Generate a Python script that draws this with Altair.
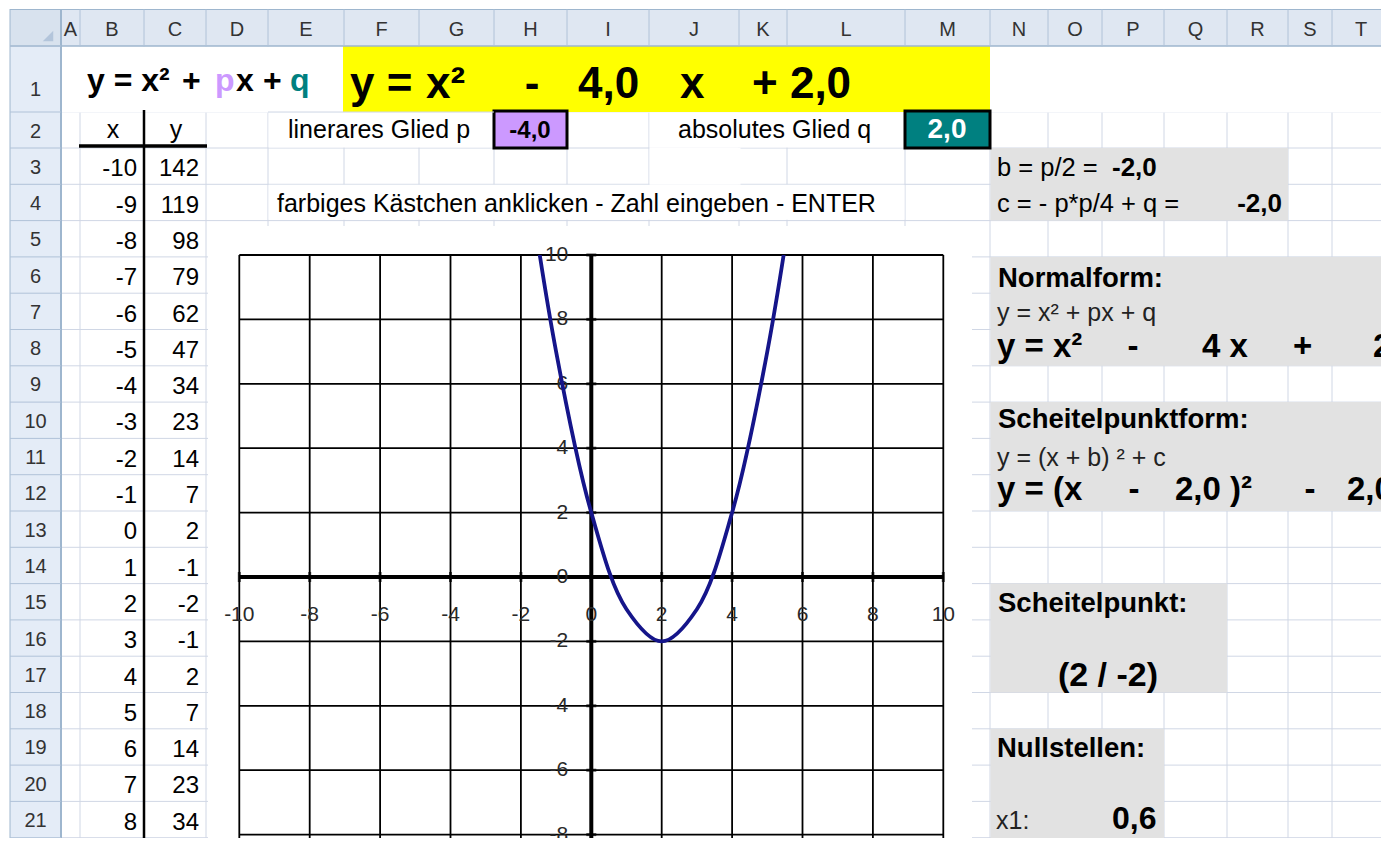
import altair as alt
import pandas as pd

# ---------------- values read from the sheet ----------------
X_VALUES = [-10, -9, -8, -7, -6, -5, -4, -3, -2, -1, 0, 1, 2, 3, 4, 5, 6, 7, 8, 9]
Y_VALUES = [142, 119, 98, 79, 62, 47, 34, 23, 14, 7, 2, -1, -2, -1, 2, 7, 14, 23, 34, 47]
AXIS_TICKS = [-10, -8, -6, -4, -2, 0, 2, 4, 6, 8, 10]
COLUMN_LETTERS = ["A", "B", "C", "D", "E", "F", "G", "H", "I", "J", "K", "L", "M",
                  "N", "O", "P", "Q", "R", "S", "T"]
ROW_NUMBERS = list(range(1, 23))
P_TEXT = "-4,0"
Q_TEXT = "2,0"
B_TEXT = "-2,0"
C_TEXT = "-2,0"
VERTEX_TEXT = "(2 / -2)"
X1_TEXT = "0,6"

# ---------------- layout (screen pixels) ----------------
COL_EDGES = [61, 80, 144, 206, 268, 344, 419, 494, 567, 649, 739, 787, 905, 990,
             1048, 1102, 1164, 1227, 1288, 1332, 1390]
ROW_EDGES = [46, 112] + [148 + 36.3 * i for i in range(21)]
R = ROW_EDGES

VIEW_LEFT, VIEW_TOP = 239.3, 255.0
PLOT_W, PLOT_H_FULL = 704, 644
SVG_W, SVG_H = 1373, 830
VIEW_H = SVG_H - (VIEW_TOP - 8)

FONT = "Liberation Sans"
GRID = "#d0d7e5"
HEAD_LINE = "#9eb6ce"
GRAY = "#e2e2e2"

SX = alt.Scale(domain=[0, 1389], range=[-VIEW_LEFT, 1389 - VIEW_LEFT], nice=False, zero=False)
SY = alt.Scale(domain=[0, 851], range=[-VIEW_TOP, 851 - VIEW_TOP], nice=False, zero=False)
DX = alt.Scale(domain=[-10, 10], range=[0, PLOT_W], nice=False, zero=False)
DY = alt.Scale(domain=[-10, 10], range=[PLOT_H_FULL, 0], nice=False, zero=False)


def screen_rules(rows):
    df = pd.DataFrame(rows, columns=["x1", "x2", "y1", "y2", "color", "w"])
    return alt.Chart(df).mark_rule().encode(
        x=alt.X("x1:Q", scale=SX, axis=None), x2="x2:Q",
        y=alt.Y("y1:Q", scale=SY, axis=None), y2="y2:Q",
        color=alt.Color("color:N", scale=None),
        strokeWidth=alt.StrokeWidth("w:Q", scale=None))


def screen_rects(rows, **mark):
    df = pd.DataFrame(rows, columns=["x1", "x2", "y1", "y2", "fill"])
    return alt.Chart(df).mark_rect(**mark).encode(
        x=alt.X("x1:Q", scale=SX, axis=None), x2="x2:Q",
        y=alt.Y("y1:Q", scale=SY, axis=None), y2="y2:Q",
        color=alt.Color("fill:N", scale=None))


# ---------------- sheet grid ----------------
grid_rows = []
for e in COL_EDGES[1:]:
    grid_rows.append([e, e, 46, 880, GRID, 1])
for e in ROW_EDGES[1:]:
    grid_rows.append([61, 1389, e, e, GRID, 1])
grid_layer = screen_rules(grid_rows)

# white masks (merged cells, row 1, chart object)
mask_layer = screen_rects([
    [61.5, 1389, 46.5, 112.5, "white"],
    [268.5, 493.5, 112.5, 147.5, "white"],
    [649.5, 904.5, 112.5, 147.5, "white"],
    [649.5, 740.5, 147.5, 184.8, "white"],
    [268.5, 904.5, 184.8, 219.8, "white"],
    [208, 972, 226, 880, "white"],
])

fill_layer = screen_rects([
    [10, 1389, 9, 46, "#dfe7f2"],
    [10, 61, 46, 880, "#e4ecf7"],
    [10, 61, 9, 46, "#d8e2ee"],
    [343, 990, 46, 112, "#ffff00"],
    [990.5, 1288, R[2], R[4], GRAY],
    [990.5, 1389, R[5], R[8], GRAY],
    [990.5, 1389, R[9], R[12], GRAY],
    [990.5, 1227, R[14], R[17], GRAY],
    [990.5, 1164, R[18], 880, GRAY],
])

box_layer = screen_rects([
    [494, 567, 111, 148, "#cc99ff"],
    [905, 990, 111, 148, "#008080"],
], stroke="black", strokeWidth=3)

top_rows = [
    [10, 1389, 9.5, 9.5, HEAD_LINE, 1],
    [10, 1389, 46, 46, HEAD_LINE, 1.5],
    [10, 10, 9, 880, HEAD_LINE, 1],
    [61, 61, 9, 880, HEAD_LINE, 2],
    [268, 494, 112, 112, GRID, 1],
    [79, 207, 146, 146, "black", 3.5],
    [144, 144, 110, 880, "black", 2.5],
]
for e in COL_EDGES[1:-1]:
    top_rows.append([e, e, 9.5, 46, "#b0c2d8", 1])
for e in ROW_EDGES:
    top_rows.append([10, 61, e, e, "#b0c2d8", 1])
top_layer = screen_rules(top_rows)

corner_layer = alt.Chart(pd.DataFrame({"x": [48], "y": [36]})).mark_point(
    shape="M 1 -1 L 1 1 L -1 1 Z", filled=True, size=110, color="#b3c5db", opacity=1
).encode(x=alt.X("x:Q", scale=SX, axis=None), y=alt.Y("y:Q", scale=SY, axis=None))

# ---------------- texts ----------------
texts = []


def T(sx, sy, text, size, weight="normal", align="left", color="#000000"):
    texts.append(dict(sx=sx, sy=sy, text=text, size=size, weight=weight, align=align, color=color))


for i, letter in enumerate(COLUMN_LETTERS):
    T((COL_EDGES[i] + COL_EDGES[i + 1]) / 2, 35.5, letter, 20, align="center", color="#333333")
for k in ROW_NUMBERS:
    mid = (R[k - 1] + R[k]) / 2
    T(35.5, 96 if k == 1 else mid + 7.5, str(k), 20, align="center", color="#333333")

for i, (xv, yv) in enumerate(zip(X_VALUES, Y_VALUES)):
    base = R[3 + i] - 8
    T(137, base, str(xv), 24, align="right")
    T(199, base, str(yv), 24, align="right")

# row 1
T(87, 91, "y = x²", 32, "bold")
T(182, 91, "+", 32, "bold")
T(215, 91, "p", 32, "bold", color="#cc99ff")
T(236, 91, "x", 32, "bold")
T(263, 91, "+", 32, "bold")
T(290, 91, "q", 32, "bold", color="#008080")
T(350, 98, "y =", 44, "bold")
T(426, 98, "x²", 44, "bold")
T(532, 98, "-", 44, "bold", "center")
T(578, 98, "4,0", 44, "bold")
T(680, 98, "x", 44, "bold")
T(752, 98, "+ 2,0", 44, "bold")
# row 2
T(113, 138, "x", 25, align="center")
T(176, 138, "y", 25, align="center")
T(288, 138, "linerares Glied p", 25)
T(530, 138, P_TEXT, 24, "bold", "center")
T(678, 138, "absolutes Glied q", 25)
T(947, 138, Q_TEXT, 28, "bold", "center", "white")
# rows 3-4
T(277, 212, "farbiges Kästchen anklicken - Zahl eingeben - ENTER", 25)
T(997, 176, "b = p/2 =", 25.5)
T(1112, 176, B_TEXT, 26, "bold")
T(997, 212, "c = - p*p/4 + q =", 25.5)
T(1282, 212, C_TEXT, 26, "bold", "right")
# Normalform
T(998, 287, "Normalform:", 27.5, "bold")
T(997, 321, "y = x² + px + q", 25, color="#222222")
T(997, 357, "y = x²", 33, "bold")
T(1133, 357, "-", 33, "bold", "center")
T(1202, 357, "4 x", 33, "bold")
T(1293, 357, "+", 33, "bold")
T(1373, 357, "2", 33, "bold")
# Scheitelpunktform
T(998, 428, "Scheitelpunktform:", 27.5, "bold")
T(997, 466, "y = (x + b) ² + c", 25, color="#222222")
T(997, 500, "y = (x", 33, "bold")
T(1134, 500, "-", 33, "bold", "center")
T(1175, 500, "2,0 )²", 33, "bold")
T(1310, 500, "-", 33, "bold", "center")
T(1347, 500, "2,0", 33, "bold")
# Scheitelpunkt
T(998, 612, "Scheitelpunkt:", 27.5, "bold")
T(1108, 686, VERTEX_TEXT, 34, "bold", "center")
# Nullstellen
T(997, 757, "Nullstellen:", 27.5, "bold")
T(996, 829, "x1:", 25, color="#222222")
T(1112, 829, X1_TEXT, 32, "bold")

text_df = pd.DataFrame(texts)
text_layers = []
for (w, a), sub in text_df.groupby(["weight", "align"]):
    text_layers.append(
        alt.Chart(sub).mark_text(font=FONT, fontWeight=w, align=a, baseline="alphabetic").encode(
            x=alt.X("sx:Q", scale=SX, axis=None),
            y=alt.Y("sy:Q", scale=SY, axis=None),
            text="text:N",
            size=alt.Size("size:Q", scale=None),
            color=alt.Color("color:N", scale=None)))

# ---------------- the chart (data units) ----------------
cg = []
for t in AXIS_TICKS:
    cg.append(dict(x1=t, x2=t, y1=-10, y2=10))
    cg.append(dict(x1=-10, x2=10, y1=t, y2=t))
chart_grid = alt.Chart(pd.DataFrame(cg)).mark_rule(color="black", strokeWidth=1.8).encode(
    x=alt.X("x1:Q", scale=DX, axis=None), x2="x2:Q",
    y=alt.Y("y1:Q", scale=DY, axis=None), y2="y2:Q")

axes_df = pd.DataFrame([dict(x1=-10, x2=10, y1=0, y2=0), dict(x1=0, x2=0, y1=-10, y2=10)])
chart_axes = alt.Chart(axes_df).mark_rule(color="black", strokeWidth=4).encode(
    x=alt.X("x1:Q", scale=DX, axis=None), x2="x2:Q",
    y=alt.Y("y1:Q", scale=DY, axis=None), y2="y2:Q")

tick_df = pd.DataFrame({"t": AXIS_TICKS, "zero": [0] * len(AXIS_TICKS),
                        "label": [str(t) for t in AXIS_TICKS]})
x_ticks = alt.Chart(tick_df).mark_tick(orient="vertical", size=10, thickness=3, color="black").encode(
    x=alt.X("t:Q", scale=DX, axis=None), y=alt.Y("zero:Q", scale=DY, axis=None))
y_ticks = alt.Chart(tick_df).mark_tick(orient="horizontal", size=10, thickness=3, color="black").encode(
    x=alt.X("zero:Q", scale=DX, axis=None), y=alt.Y("t:Q", scale=DY, axis=None))
x_labels = alt.Chart(tick_df).mark_text(font=FONT, fontSize=21, dy=38, align="center",
                                        baseline="middle", color="#2a2a2a").encode(
    x=alt.X("t:Q", scale=DX, axis=None), y=alt.Y("zero:Q", scale=DY, axis=None), text="label:N")
y_labels = alt.Chart(tick_df).mark_text(font=FONT, fontSize=21, dx=-23, align="right",
                                        baseline="middle", color="#2a2a2a").encode(
    x=alt.X("zero:Q", scale=DX, axis=None), y=alt.Y("t:Q", scale=DY, axis=None), text="label:N")

curve = alt.Chart(pd.DataFrame({"x": X_VALUES, "y": Y_VALUES})).mark_line(
    interpolate="catmull-rom", clip=True, color="#15158a", strokeWidth=3.8
).encode(x=alt.X("x:Q", scale=DX, axis=None), y=alt.Y("y:Q", scale=DY, axis=None))

layers = [grid_layer, mask_layer, fill_layer, box_layer, top_layer, corner_layer,
          chart_grid, chart_axes, x_ticks, y_ticks, x_labels, y_labels, curve] + text_layers

chart = alt.layer(*layers).resolve_scale(x="independent", y="independent").properties(
    width=PLOT_W,
    height=VIEW_H,
    padding={"left": VIEW_LEFT - 8, "top": VIEW_TOP - 8,
             "right": SVG_W - (VIEW_LEFT - 8) - PLOT_W, "bottom": 0},
    autosize=alt.AutoSizeParams(type="none"),
    background="white",
).configure_view(stroke=None)

chart.save("out.html", embed_options={"renderer": "svg", "actions": False})
